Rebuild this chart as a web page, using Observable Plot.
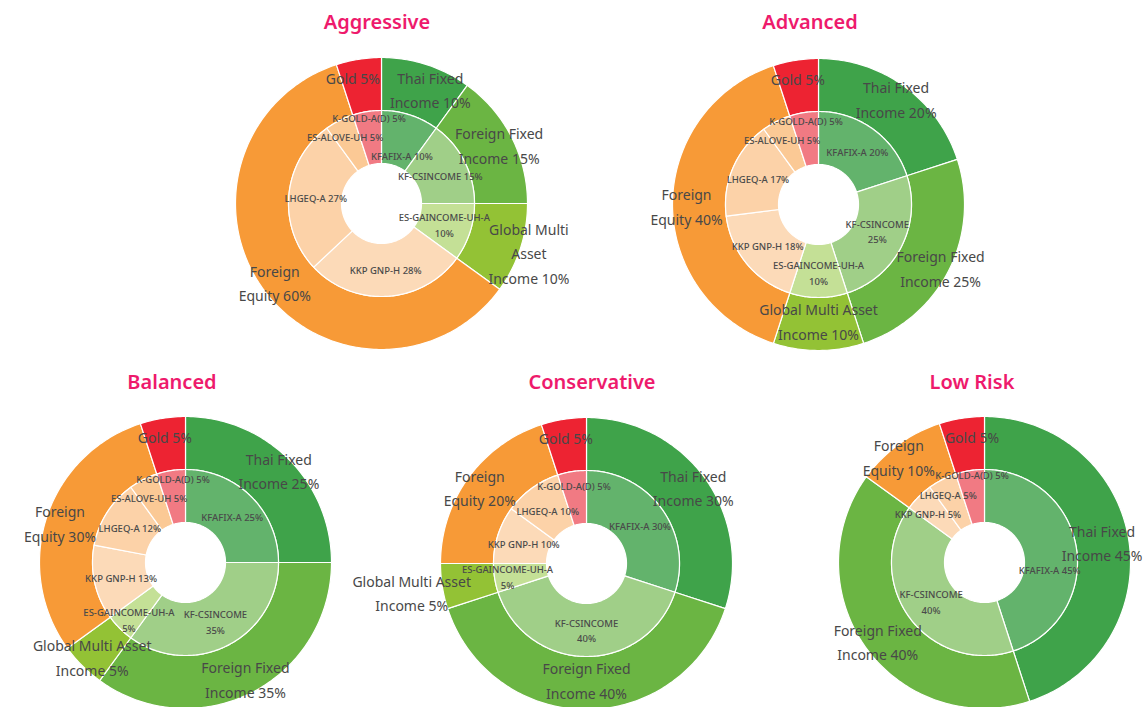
<!DOCTYPE html>
<html><head><meta charset="utf-8">
<script src="https://cdn.jsdelivr.net/npm/d3@7"></script>
<script src="https://cdn.jsdelivr.net/npm/@observablehq/plot@0.6"></script>
<style>
body{margin:0;background:#fff;width:1144px;height:707px;overflow:hidden;position:relative;font-family:"Noto Sans",sans-serif}
.chart{position:absolute;width:300px;height:300px}
.title{position:absolute;transform:translate(-50%,-50%);color:#ee1a6c;font-size:20px;font-weight:600;white-space:nowrap;font-family:"Noto Sans",sans-serif}
</style></head><body>
<script>
// ---- data ----
const portfolios = ["Aggressive", "Advanced", "Balanced", "Conservative", "Low Risk"];
const assetClasses = ["Thai Fixed Income", "Foreign Fixed Income", "Global Multi Asset Income", "Foreign Equity", "Gold"];
const funds = ["KFAFIX-A", "KF-CSINCOME", "ES-GAINCOME-UH-A", "KKP GNP-H", "LHGEQ-A", "ES-ALOVE-UH", "K-GOLD-A(D)"];
const assetColors = ["#3fa34a", "#6bb543", "#93c235", "#f79a37", "#ed2332"];
const fundColors = ["#63b36c", "#a0cf88", "#c4e096", "#fcdab8", "#fcd2a8", "#fbc995", "#f17a83"];

const aggressiveAssets = [10, 15, 10, 60, 5];
const advancedAssets = [20, 25, 10, 40, 5];
const balancedAssets = [25, 35, 5, 30, 5];
const conservativeAssets = [30, 40, 5, 20, 5];
const lowRiskAssets = [45, 40, 0, 10, 5];

const aggressiveFunds = [10, 15, 10, 28, 27, 5, 5];
const advancedFunds = [20, 25, 10, 18, 17, 5, 5];
const balancedFunds = [25, 35, 5, 13, 12, 5, 5];
const conservativeFunds = [30, 40, 5, 10, 10, 0, 5];
const lowRiskFunds = [45, 40, 0, 5, 5, 0, 5];

// label wording (line breaks as shown)
const aggressiveAssetLabels = ["Thai Fixed\nIncome", "Foreign Fixed\nIncome", "Global Multi\nAsset\nIncome", "Foreign\nEquity", "Gold"];
const wideAssetLabels = ["Thai Fixed\nIncome", "Foreign Fixed\nIncome", "Global Multi Asset\nIncome", "Foreign\nEquity", "Gold"];
const aggressiveFundLabels = ["KFAFIX-A ", "KF-CSINCOME ", "ES-GAINCOME-UH-A\n", "KKP GNP-H ", "LHGEQ-A ", "ES-ALOVE-UH ", "K-GOLD-A(D) "];
const wrappedFundLabels = ["KFAFIX-A ", "KF-CSINCOME\n", "ES-GAINCOME-UH-A\n", "KKP GNP-H ", "LHGEQ-A ", "ES-ALOVE-UH ", "K-GOLD-A(D) "];

const assetSeries = [aggressiveAssets, advancedAssets, balancedAssets, conservativeAssets, lowRiskAssets];
const fundSeries = [aggressiveFunds, advancedFunds, balancedFunds, conservativeFunds, lowRiskFunds];
const assetLabelSets = [aggressiveAssetLabels, wideAssetLabels, wideAssetLabels, wideAssetLabels, wideAssetLabels];
const fundLabelSets = [aggressiveFundLabels, wrappedFundLabels, wrappedFundLabels, wrappedFundLabels, wrappedFundLabels];

// ---- layout ----
const PAGE_W = 1144;
const centers = [[381, 203], [818, 204], [185, 562], [586, 563], [984, 562]];
const titleCenters = [[377, 21], [810, 21], [172, 381], [592, 381], [972, 381]];
const R_HOLE = 40, R_MID = 93, R_OUT = 146;
const OUTER_FONT = 14, OUTER_LH = 1.75, INNER_FONT = 9.5, INNER_LH = 1.65;
const ctx = document.createElement("canvas").getContext("2d");

function ring(values, names, labels, r0, r1, labelR, smallR, key) {
  const polys = [], texts = [];
  let cum = 0;
  values.forEach((v, i) => {
    if (!(v > 0)) { return; }
    const a0 = cum / 100 * 2 * Math.PI, a1 = (cum + v) / 100 * 2 * Math.PI;
    cum += v;
    const steps = Math.max(2, Math.ceil((a1 - a0) / (Math.PI / 180)));
    const id = key + i;
    for (let s = 0; s <= steps; s++) {
      const a = a0 + (a1 - a0) * s / steps;
      polys.push({id, key: names[i], x: r1 * Math.sin(a), y: r1 * Math.cos(a)});
    }
    for (let s = steps; s >= 0; s--) {
      const a = a0 + (a1 - a0) * s / steps;
      polys.push({id, key: names[i], x: r0 * Math.sin(a), y: r0 * Math.cos(a)});
    }
    const am = (a0 + a1) / 2;
    const lr = v <= 5 ? smallR : labelR;
    const base = labels[i];
    const text = base.endsWith("\n") || base.endsWith(" ") ? base + v + "%" : base + " " + v + "%";
    texts.push({x: lr * Math.sin(am), y: lr * Math.cos(am), a: am, r: lr, text});
  });
  return {polys, texts};
}

function measure(texts, font, size, lh) {
  ctx.font = font;
  texts.forEach(t => {
    const lines = t.text.split("\n");
    t.w = Math.max(...lines.map(l => ctx.measureText(l).width));
    t.h = (lines.length - 1) * size * lh + size * 1.2;
  });
}
const xOverlap = (a, b) => (a.w + b.w) / 2 - Math.abs(a.x - b.x);
const yOverlap = (a, b) => (a.h + b.h) / 2 - Math.abs(a.y - b.y);

portfolios.forEach((name, k) => {
  const [cx, cy] = centers[k];
  const outer = ring(assetSeries[k], assetClasses, assetLabelSets[k], R_MID, R_OUT, 132, 132, "a");
  const inner = ring(fundSeries[k], funds, fundLabelSets[k], R_HOLE, R_MID, 66, 80, "f");
  measure(inner.texts, `500 ${INNER_FONT}px "Noto Sans"`, INNER_FONT, INNER_LH);
  measure(outer.texts, `${OUTER_FONT}px "Noto Sans"`, OUTER_FONT, OUTER_LH);
  const O = outer.texts, I = inner.texts;

  // outer labels: spread apart horizontally when they collide
  for (let it = 0; it < 100; it++) {
    let moved = false;
    for (let i = 0; i < O.length; i++) for (let j = i + 1; j < O.length; j++) {
      const a = O[i], b = O[j], ox = xOverlap(a, b) + 10;
      if (ox > 0.01 && yOverlap(a, b) > 0) {
        const s = a.x >= b.x ? 1 : -1;
        a.x += s * ox / 2; b.x -= s * ox / 2; moved = true;
      }
    }
    if (!moved) break;
  }
  // inner labels: spread apart vertically
  const spreadInner = (others) => {
    for (let it = 0; it < 200; it++) {
      let moved = false;
      for (let i = 0; i < I.length; i++) for (let j = i + 1; j < I.length; j++) {
        const a = I[i], b = I[j];
        if (xOverlap(a, b) > 0) {
          const oy = yOverlap(a, b) + 8;
          if (oy > 0.01) { const s = a.y >= b.y ? 1 : -1; a.y += s * oy / 2; b.y -= s * oy / 2; moved = true; }
        }
      }
      for (const a of I) for (const b of others) {
        if (xOverlap(a, b) > 10) {
          const oy = yOverlap(a, b) + 2;
          if (oy > 0.01) { const s = a.y >= b.y ? 1 : -1; a.y += s * oy; moved = true; }
        }
      }
      if (!moved) break;
    }
  };
  spreadInner([]);
  // outer labels: move outward radially away from inner labels (limited)
  for (const t of O) {
    let r = t.r;
    const hit = () => I.some(b => xOverlap(t, b) > 2 && yOverlap(t, b) > 2);
    while (hit() && r < t.r + 45) {
      r += 1;
      t.x = t.x + Math.sin(t.a);
      t.y = t.y + Math.cos(t.a);
    }
    const lim = R_OUT - 4 - t.h / 2 - 6;
    t.y = Math.max(-lim, Math.min(lim, t.y));
    const maxX = PAGE_W - 2 - t.w / 2 - cx, minX = 2 + t.w / 2 - cx;
    t.x = Math.max(minX, Math.min(maxX, t.x));
  }
  spreadInner(O);

  const chart = Plot.plot({
    width: 300, height: 300, margin: 0,
    x: {domain: [-150, 150], axis: null},
    y: {domain: [-150, 150], axis: null},
    color: {domain: [...assetClasses, ...funds], range: [...assetColors, ...fundColors]},
    style: {overflow: "visible", background: "transparent"},
    marks: [
      Plot.line(outer.polys, {x: "x", y: "y", z: "id", fill: "key", stroke: "white", strokeWidth: 1.2, curve: "linear-closed"}),
      Plot.line(inner.polys, {x: "x", y: "y", z: "id", fill: "key", stroke: "white", strokeWidth: 1.2, curve: "linear-closed"}),
      Plot.text(I, {x: "x", y: "y", text: "text", fontSize: INNER_FONT, fill: "#4a4a4a", fontWeight: 500, lineHeight: INNER_LH, fontFamily: "Noto Sans"}),
      Plot.text(O, {x: "x", y: "y", text: "text", fontSize: OUTER_FONT, fill: "#484848", lineHeight: OUTER_LH, fontFamily: "Noto Sans"})
    ]
  });
  const div = document.createElement("div");
  div.className = "chart";
  div.style.left = (cx - 150) + "px";
  div.style.top = (cy - 150) + "px";
  div.appendChild(chart);
  document.body.appendChild(div);
  const t = document.createElement("div");
  t.className = "title";
  t.textContent = name;
  t.style.left = titleCenters[k][0] + "px";
  t.style.top = titleCenters[k][1] + "px";
  document.body.appendChild(t);
});
</script>
</body></html>
